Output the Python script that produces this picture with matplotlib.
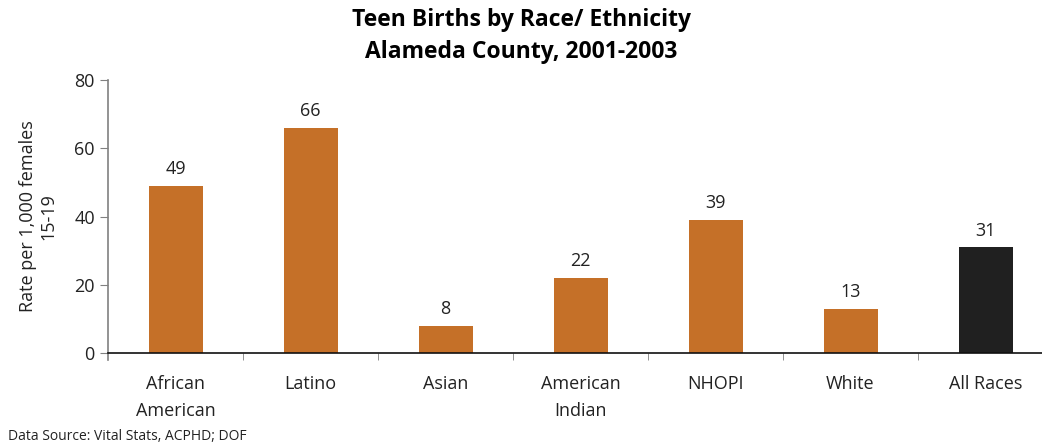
import numpy as np
import matplotlib.pyplot as plt

groups = ["African\nAmerican", "Latino", "Asian", "American\nIndian", "NHOPI", "White", "All Races"]
rates = [49, 66, 8, 22, 39, 13, 31]
yticks = [0, 20, 40, 60, 80]

orange = "#c57028"
dark = "#202020"

plt.rcParams['font.family'] = ['Open Sans', 'DejaVu Sans']

fig = plt.figure(figsize=(10.42, 4.47), dpi=100)
ax = fig.add_axes([108 / 1042, 1 - 353 / 447, 945 / 1042, 273 / 447])

x = np.arange(len(groups))
colors = [orange] * (len(groups) - 1) + [dark]
ax.bar(x, rates, width=0.4, color=colors)

for xi, r in zip(x, rates):
    ax.text(xi, r + 2.2, str(r), ha="center", va="bottom", fontsize=13, color="#222222")

ax.set_xlim(-0.5, len(groups) - 0.5)
ax.set_ylim(0, 80)
ax.set_yticks(yticks)
ax.tick_params(axis="y", labelsize=13, length=6, color="#808080", labelcolor="#222222")

ax.set_xticks(x)
ax.set_xticklabels(groups, fontsize=13, color="#222222", linespacing=1.6)
ax.tick_params(axis="x", length=0, pad=16)
ax.set_xticks(np.arange(0.5, len(groups) - 0.5), minor=True)
ax.tick_params(axis="x", which="minor", length=5, color="#808080")

for s in ["top", "right"]:
    ax.spines[s].set_visible(False)
ax.spines["left"].set_color("#808080")
ax.spines["left"].set_linewidth(1.2)
ax.spines["left"].set_bounds(-2, 80)
ax.spines["bottom"].set_color("#111111")
ax.spines["bottom"].set_linewidth(1.2)

ax.set_ylabel("Rate per 1,000 females\n15-19", fontsize=13, color="#222222", labelpad=12)

fig.text(0.5, 1 - 36 / 447, "Teen Births by Race/ Ethnicity\nAlameda County, 2001-2003",
         ha="center", va="center", fontsize=16.5, fontweight="bold", linespacing=1.4)
fig.text(8 / 1042, 1 - 437 / 447, "Data Source: Vital Stats, ACPHD; DOF",
         ha="left", va="center", fontsize=10, color="#222222")

fig.savefig("out.png", dpi=100)
